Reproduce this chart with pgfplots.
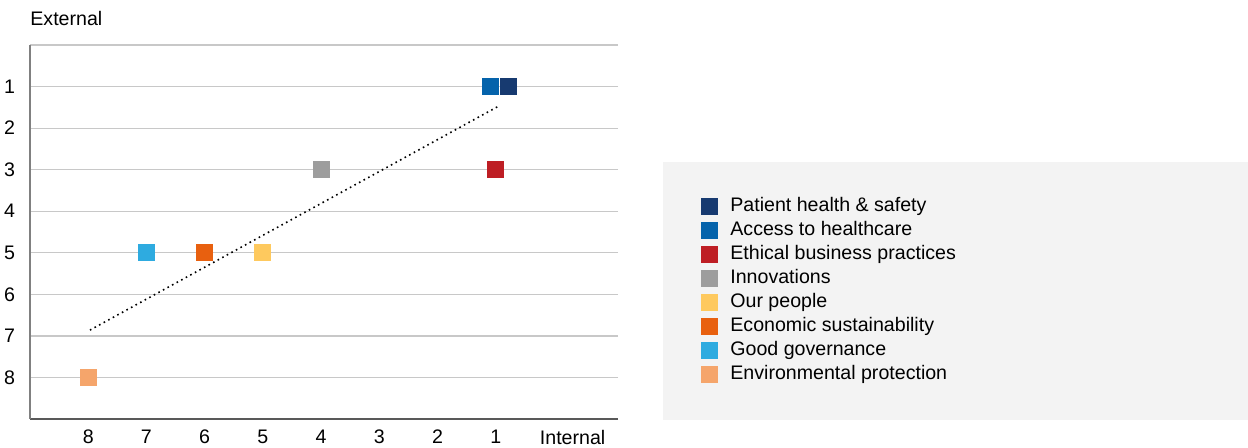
\documentclass[border=0pt]{standalone}
\usepackage{fontspec}
\setmainfont{Liberation Sans}
\usepackage{pgfplots}
\pgfplotsset{compat=1.18}

\definecolor{cNavy}{HTML}{173A70}
\definecolor{cBlue}{HTML}{0563AB}
\definecolor{cRed}{HTML}{BE1E24}
\definecolor{cGray}{HTML}{9D9D9D}
\definecolor{cYellow}{HTML}{FEC95E}
\definecolor{cOrange}{HTML}{E8600F}
\definecolor{cSky}{HTML}{2EABE0}
\definecolor{cSalmon}{HTML}{F5A56B}
\definecolor{gridc}{HTML}{C8C8C8}
\definecolor{boxc}{HTML}{F3F3F3}

\begin{document}
\begin{tikzpicture}[font=\fontsize{9.8}{12}\selectfont]
\useasboundingbox (-15pt,-14pt) rectangle (609pt,209.5pt);
\begin{axis}[
  scale only axis,
  width=294pt, height=187pt,
  xmin=-1.1, xmax=9, ymin=0, ymax=9,
  x dir=reverse, y dir=reverse,
  axis x line=bottom, axis y line=left,
  axis line style={-, draw=black!65, line width=0.6pt},
  y axis line style={draw=black!50},
  xtick={8,7,6,5,4,3,2,1,-0.32},
  xticklabels={8,7,6,5,4,3,2,1,Internal},
  ytick={0,1,...,8},
  yticklabels={,1,2,3,4,5,6,7,8},
  major tick length=0pt,
  ymajorgrids,
  grid style={draw=gridc, line width=0.6pt},
  xticklabel style={yshift=-2pt},
  yticklabel style={xshift=-4pt},
  clip=false,
  only marks,
  mark size=4pt,
  legend cell align=left,
  legend style={
    at={(rel axis cs:1.0765,0.687)}, anchor=north west,
    draw=none, fill=none,
    inner xsep=19pt, inner ysep=16pt,
    row sep=0pt,
    nodes={inner sep=0pt, text height=8.5pt, text depth=3.5pt, font=\fontsize{9.8}{12}\selectfont},
    /tikz/column 1/.style={column sep=6.5pt},
  },
  legend image code/.code={\draw[#1] plot coordinates {(0pt,0pt)};},
]
\fill[boxc] (rel axis cs:1.0765,0.687) rectangle (rel axis cs:2.0714,-0.003);
\node[anchor=base west, inner sep=0pt] at (rel axis cs:0,1) [yshift=10pt] {External};

\addplot[forget plot, no marks, sharp plot, black, line width=0.8pt, dash pattern=on 0.8pt off 1.8pt]
  coordinates {(7.97,6.86) (0.95,1.47)};

\addplot[color=cNavy, mark=square*] coordinates {(0.79,1)};
\addplot[color=cBlue, mark=square*] coordinates {(1.09,1)};
\addplot[color=cRed, mark=square*] coordinates {(1,3)};
\addplot[color=cGray, mark=square*] coordinates {(4,3)};
\addplot[color=cYellow, mark=square*] coordinates {(5,5)};
\addplot[color=cOrange, mark=square*] coordinates {(6,5)};
\addplot[color=cSky, mark=square*] coordinates {(7,5)};
\addplot[color=cSalmon, mark=square*] coordinates {(8,8)};
\legend{Patient health \& safety, Access to healthcare, Ethical business practices, Innovations, Our people, Economic sustainability, Good governance, Environmental protection}
\end{axis}
\end{tikzpicture}
\end{document}
